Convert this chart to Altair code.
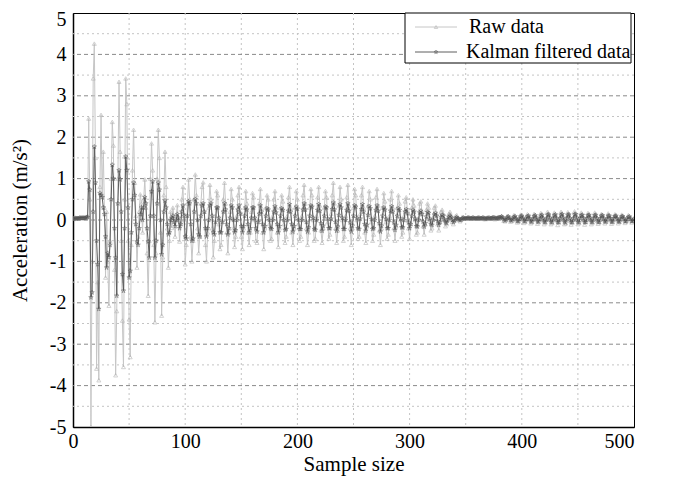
import altair as alt
import pandas as pd

series_names = ["Raw data", "Kalman filtered data"]

raw = [
    0.05, 0.04, 0.06, 0.05, 0.05, 0.04, 0.06, 0.05, 0.05, 0.06, 0.05, 0.04, 0.08, 0.1,
    2.45, 0.5, -5.0, -1.0, 3.42, 4.26, 1.5, -3.59, -1.5, -3.87,
    0.8, 2.54, 0.6, 1.65, 0.3, -1.39, 0.2, -1.0, -2.07, -0.5,
    1.0, 2.37, 1.8, -1.2, -3.75, -2.2, 1.0, 3.34, 1.65, -0.5,
    -2.43, -3.55, 0.5, 3.42, 2.8, -0.5, -2.4, -3.31, -0.6, 1.2,
    2.18, 0.9, 0.1, -1.15, -0.4, 0.2, 0.62, 0.4, -0.3, 0.5,
    0.98, 0.3, -0.8, -1.83, -0.5, 1.0, 1.85, 1.2, -0.6, -2.47,
    -0.8, 1.0, 2.18, 1.5, -0.3, -2.31, -0.9, 0.6, 1.65, 0.8,
    -0.2, -1.15, -0.5, 0.2, -0.19, 0.3, 0.1, -0.4, 0.1, 0.36,
    0.0, -0.52, -0.1, 0.5, 0.8, 0.0, -1.07, -0.6, 0.4, 0.98,
    0.5, -0.4, -1.0, -0.5, 0.5, 1.1, 0.6, -0.2, -0.8, -0.4,
    0.4, 0.8, 0.91, 0.2, -0.6, -1.0, -0.3,
    0.3, 0.85, 0.5, -0.2, -0.9, -0.5, 0.1,
    0.7, 0.6, -0.1, -0.7, -0.6, 0.0,
    0.5, 0.9, 0.4, -0.3, -0.8, -0.3, 0.2,
    0.75, 0.5, -0.2, -0.65, -0.4, 0.1,
    0.6, 0.8, 0.2, -0.4, -0.7, -0.2, 0.3,
    0.7, 0.4, -0.3, -0.6, -0.3, 0.2,
    0.65, 0.55, 0.0, -0.5, -0.55, 0.0, 0.4,
    0.75, 0.3, -0.3, -0.7, -0.2, 0.3,
    0.6, 0.5, -0.1, -0.5, -0.45, 0.1, 0.5,
    0.7, 0.3, -0.3, -0.65, -0.2, 0.3,
    0.6, 0.45, -0.1, -0.55, -0.4, 0.1, 0.55,
    0.8, 0.3, -0.3, -0.6, -0.2, 0.3,
    0.7, 0.5, -0.1, -0.5, -0.4, 0.1, 0.6,
    0.85, 0.4, -0.2, -0.6, -0.3, 0.3,
    0.75, 0.6, 0.0, -0.5, -0.45, 0.1, 0.55,
    0.8, 0.35, -0.25, -0.55, -0.2, 0.3,
    0.7, 0.55, -0.05, -0.45, -0.35, 0.15, 0.6,
    0.9, 0.4, -0.2, -0.55, -0.25, 0.35,
    0.8, 0.5, 0.0, -0.5, -0.4, 0.1, 0.55,
    0.85, 0.35, -0.2, -0.6, -0.2, 0.3,
    0.75, 0.6, 0.0, -0.45, -0.4, 0.15, 0.6,
    0.8, 0.3, -0.3, -0.55, -0.15, 0.35,
    0.7, 0.5, -0.05, -0.5, -0.35, 0.1, 0.55,
    0.75, 0.35, -0.25, -0.6, -0.2, 0.3,
    0.65, 0.45, -0.05, -0.45, -0.35, 0.1, 0.5,
    0.7, 0.3, -0.2, -0.5, -0.15, 0.3,
    0.6, 0.4, 0.0, -0.4, -0.3, 0.1, 0.45,
    0.55, 0.25, -0.2, -0.45, -0.1, 0.3,
    0.5, 0.35, 0.0, -0.35, -0.3, 0.05, 0.4,
    0.45, 0.2, -0.15, -0.35, -0.1, 0.25,
    0.4, 0.3, 0.0, -0.25, -0.2, 0.05, 0.3,
    0.35, 0.15, -0.1, -0.25, -0.05, 0.2,
    0.25, 0.15, 0.0, -0.15, -0.1, 0.05, 0.15,
    0.2, 0.1, -0.05, -0.1, 0.0, 0.1,
    0.12, 0.05, 0.0, -0.03, 0.02, 0.08,
    0.06, 0.04, 0.03, 0.05, 0.07, 0.05, 0.03, 0.04, 0.06, 0.05, 0.04, 0.03, 0.05,
    0.06, 0.04, 0.03, 0.05, 0.06, 0.04, 0.02, 0.04, 0.06, 0.05, 0.03, 0.04, 0.06,
    0.07, 0.04, 0.02, 0.03, 0.06, 0.08, 0.05,
    0.08, 0.1, 0.04, -0.02, -0.03, 0.03,
    0.1, 0.09, 0.02, -0.04, -0.02, 0.05,
    0.12, 0.08, 0.0, -0.06, -0.03, 0.06,
    0.13, 0.1, 0.01, -0.07, -0.04, 0.06,
    0.14, 0.1, 0.0, -0.08, -0.05, 0.05,
    0.15, 0.12, 0.01, -0.09, -0.05, 0.07,
    0.17, 0.12, -0.01, -0.1, -0.06, 0.06,
    0.2, 0.14, 0.0, -0.1, -0.07, 0.08,
    0.18, 0.13, -0.01, -0.12, -0.06, 0.07,
    0.2, 0.15, 0.0, -0.1, -0.08, 0.08,
    0.19, 0.14, -0.02, -0.11, -0.06, 0.07,
    0.21, 0.13, 0.0, -0.1, -0.07, 0.09,
    0.18, 0.12, -0.01, -0.11, -0.05, 0.07,
    0.17, 0.13, 0.0, -0.1, -0.06, 0.08,
    0.18, 0.11, -0.02, -0.09, -0.05, 0.07,
    0.15, 0.12, 0.0, -0.08, -0.04, 0.06,
    0.16, 0.1, -0.01, -0.09, -0.05, 0.07,
    0.14, 0.1, 0.0, -0.08, -0.04, 0.06,
    0.13, 0.09, 0.0, -0.07, -0.03, 0.05,
    0.12, 0.08, -0.01, -0.06, -0.02, 0.04,
]

kalman = [
    0.03, 0.03, 0.04, 0.04, 0.04, 0.04, 0.05, 0.05, 0.05, 0.05, 0.05, 0.05, 0.06, 0.07,
    0.93, 0.73, -1.87, -1.75, 0.2, 1.77, 0.9, -0.5, -1.07, -2.15,
    0.65, 0.6, 0.55, 0.3, 0.14, -0.4, -1.15, -0.8, -0.9, -0.6,
    0.5, 1.33, 1.0, -0.2, -0.91, -1.83, 0.4, 1.2, 0.98, 0.2,
    -1.31, -1.71, -0.2, 1.53, 1.2, 0.3, -1.39, -1.23, -0.3, 0.5,
    0.9, 0.6, -0.1, -0.52, -0.6, -0.2, 0.14, 0.3, 0.0, 0.3,
    0.55, 0.4, -0.2, -0.52, -0.91, 0.1, 0.69, 0.93, 0.1, -0.91,
    -0.5, 0.4, 0.9, 0.73, 0.0, -0.83, -0.6, 0.2, 0.47, 0.3,
    -0.1, -0.35, -0.3, 0.0, 0.05, 0.1, -0.05, -0.15, 0.0, 0.14,
    0.05, -0.2, -0.1, 0.2, 0.35, 0.1, -0.4, -0.45, 0.1, 0.45,
    0.4, -0.1, -0.5, -0.45, 0.2, 0.5, 0.4, 0.0, -0.35, -0.4,
    0.1, 0.35, 0.4, 0.2, -0.2, -0.4, -0.2,
    0.0, 0.35, 0.4, 0.1, -0.3, -0.35, -0.05,
    0.3, 0.3, 0.05, -0.3, -0.3, -0.05,
    0.2, 0.4, 0.25, -0.1, -0.35, -0.2, 0.05,
    0.35, 0.3, 0.0, -0.3, -0.25, 0.0,
    0.25, 0.35, 0.15, -0.15, -0.3, -0.15, 0.1,
    0.3, 0.25, -0.1, -0.3, -0.2, 0.05,
    0.3, 0.3, 0.05, -0.2, -0.28, -0.05, 0.15,
    0.35, 0.2, -0.1, -0.3, -0.15, 0.1,
    0.28, 0.25, 0.0, -0.2, -0.22, 0.0, 0.2,
    0.33, 0.18, -0.1, -0.3, -0.15, 0.1,
    0.28, 0.24, 0.0, -0.24, -0.22, 0.0, 0.22,
    0.38, 0.2, -0.1, -0.28, -0.15, 0.1,
    0.32, 0.27, 0.0, -0.22, -0.22, 0.0, 0.25,
    0.4, 0.25, -0.05, -0.28, -0.18, 0.1,
    0.35, 0.32, 0.05, -0.22, -0.24, 0.0, 0.24,
    0.38, 0.22, -0.08, -0.26, -0.14, 0.1,
    0.32, 0.3, 0.03, -0.2, -0.2, 0.03, 0.26,
    0.42, 0.25, -0.05, -0.26, -0.16, 0.12,
    0.38, 0.3, 0.05, -0.22, -0.22, 0.0, 0.24,
    0.4, 0.22, -0.06, -0.28, -0.14, 0.1,
    0.35, 0.32, 0.05, -0.2, -0.22, 0.03, 0.26,
    0.38, 0.2, -0.1, -0.26, -0.12, 0.12,
    0.33, 0.28, 0.02, -0.22, -0.2, 0.0, 0.24,
    0.35, 0.22, -0.08, -0.28, -0.14, 0.1,
    0.3, 0.25, 0.02, -0.2, -0.2, 0.0, 0.22,
    0.33, 0.2, -0.06, -0.24, -0.12, 0.1,
    0.28, 0.24, 0.03, -0.18, -0.18, 0.0, 0.2,
    0.26, 0.16, -0.06, -0.2, -0.1, 0.1,
    0.24, 0.2, 0.03, -0.15, -0.16, 0.0, 0.18,
    0.22, 0.14, -0.04, -0.16, -0.08, 0.08,
    0.19, 0.17, 0.03, -0.1, -0.12, 0.0, 0.13,
    0.17, 0.1, -0.03, -0.12, -0.05, 0.07,
    0.12, 0.1, 0.02, -0.06, -0.07, 0.0, 0.07,
    0.1, 0.07, 0.0, -0.05, -0.02, 0.04,
    0.06, 0.04, 0.02, 0.0, 0.01, 0.04,
    0.05, 0.04, 0.04, 0.04, 0.05, 0.05, 0.04, 0.04, 0.05, 0.05, 0.04, 0.04, 0.04,
    0.05, 0.05, 0.04, 0.04, 0.05, 0.05, 0.04, 0.03, 0.04, 0.05, 0.05, 0.04, 0.04,
    0.05, 0.06, 0.05, 0.04, 0.04, 0.05, 0.06,
    0.06, 0.08, 0.06, 0.02, -0.01, 0.01,
    0.06, 0.08, 0.05, 0.0, -0.01, 0.02,
    0.07, 0.09, 0.04, -0.02, -0.03, 0.02,
    0.08, 0.1, 0.05, -0.02, -0.03, 0.02,
    0.08, 0.1, 0.04, -0.03, -0.04, 0.02,
    0.09, 0.11, 0.05, -0.03, -0.04, 0.02,
    0.1, 0.12, 0.04, -0.04, -0.05, 0.02,
    0.12, 0.13, 0.05, -0.04, -0.05, 0.03,
    0.11, 0.13, 0.04, -0.05, -0.05, 0.03,
    0.12, 0.14, 0.05, -0.04, -0.06, 0.03,
    0.12, 0.13, 0.04, -0.05, -0.05, 0.03,
    0.13, 0.14, 0.05, -0.04, -0.05, 0.04,
    0.11, 0.12, 0.04, -0.05, -0.05, 0.03,
    0.11, 0.12, 0.05, -0.04, -0.05, 0.03,
    0.11, 0.12, 0.04, -0.04, -0.05, 0.03,
    0.1, 0.11, 0.04, -0.03, -0.04, 0.02,
    0.1, 0.1, 0.04, -0.04, -0.04, 0.03,
    0.09, 0.1, 0.04, -0.03, -0.04, 0.02,
    0.08, 0.09, 0.04, -0.03, -0.03, 0.02,
    0.07, 0.08, 0.03, -0.03, -0.02, 0.02,
]

x_ticks = [0, 100, 200, 300, 400, 500]
y_ticks = [-5, -4, -3, -2, -1, 0, 1, 2, 3, 4, 5]
y_major_grid = [-4, -3, -2, -1, 0, 1, 2, 3, 4]
y_minor_grid = [-4.5, -3.5, -2.5, -1.5, -0.5, 0.5, 1.5, 2.5, 3.5, 4.5]
x_grid = [50, 100, 150, 200, 250, 300, 350, 400, 450]

raw_df = pd.DataFrame({"sample": list(range(len(raw))), "value": raw})
kal_df = pd.DataFrame({"sample": list(range(len(kalman))), "value": kalman})

FONT = "Liberation Serif"
LFS = 20   # tick labels / legend
TFS = 21   # axis titles
RAW_LINE = "#c6c6c6"
RAW_MARK = "#b0b0b0"
KAL_LINE = "#5e5e5e"
KAL_MARK = "#505050"
STAR = ("M0,-1L0.24,-0.33L0.95,-0.31L0.38,0.12L0.59,0.81L0,0.4L-0.59,0.81"
        "L-0.38,0.12L-0.95,-0.31L-0.24,-0.33Z")

xs = alt.Scale(domain=[0, 500], nice=False, zero=False)
ys = alt.Scale(domain=[-5, 5], nice=False, zero=False)

common_axis = dict(
    grid=False, ticks=False,
    labelFont=FONT, titleFont=FONT, labelFontSize=LFS, titleFontSize=TFS,
    labelColor="black", titleColor="black", titleFontWeight="normal",
    domainColor="black", domainWidth=1.5,
)
x_axis = alt.Axis(
    values=x_ticks, labelPadding=4, titlePadding=2,
    labelAlign={"condition": {"test": "datum.value == 500", "value": "right"}, "value": "center"},
    **common_axis,
)
y_axis = alt.Axis(
    values=y_ticks, labelPadding=7, titlePadding=19,
    labelExpr="'' + datum.value",
    labelOffset={"condition": {"test": "datum.value == 5", "value": 6}, "value": 0},
    **common_axis,
)

X = alt.X("sample:Q", scale=xs, axis=x_axis, title="Sample size")
Y = alt.Y("value:Q", scale=ys, axis=y_axis, title="Acceleration (m/s²)")

# grid layers share field names and axes with the data layers
major = alt.Chart(pd.DataFrame({"value": y_major_grid})).mark_rule(
    color="#8a8a8a", strokeDash=[4, 3], strokeWidth=1
).encode(y=Y)
minor = alt.Chart(pd.DataFrame({"value": y_minor_grid})).mark_rule(
    color="#c4c4c4", strokeDash=[2, 3], strokeWidth=1
).encode(y=Y)
vgrid = alt.Chart(pd.DataFrame({"sample": x_grid})).mark_rule(
    color="#c4c4c4", strokeDash=[2, 3], strokeWidth=1
).encode(x=X)

raw_line = alt.Chart(raw_df).mark_line(color=RAW_LINE, strokeWidth=1, clip=True).encode(x=X, y=Y)
raw_pts = alt.Chart(raw_df).mark_point(
    shape="triangle-up", size=16, filled=False, color=RAW_MARK, strokeWidth=0.8, clip=True
).encode(x=X, y=Y)
kal_line = alt.Chart(kal_df).mark_line(color=KAL_LINE, strokeWidth=1, clip=True).encode(x=X, y=Y)
kal_pts = alt.Chart(kal_df).mark_point(
    shape=STAR, size=22, filled=False, color=KAL_MARK, strokeWidth=0.7, clip=True
).encode(x=X, y=Y)

# hand-built legend box (positions in pixels of the plot area)
one = pd.DataFrame({"k": [0]})
leg_box = alt.Chart(one).mark_rect(fill="white", stroke="black", strokeWidth=1).encode(
    x=alt.value(332), x2=alt.value(558), y=alt.value(0), y2=alt.value(50))
leg_rows = []
for i, (name, lc, mc, shp, sz, tx) in enumerate([
    (series_names[0], RAW_LINE, RAW_MARK, "triangle-up", 12, 396),
    (series_names[1], KAL_LINE, KAL_MARK, STAR, 16, 393),
]):
    yy = 14 + 25 * i
    leg_rows.append(alt.Chart(one).mark_rule(color=lc, strokeWidth=1).encode(
        x=alt.value(342), x2=alt.value(384), y=alt.value(yy)))
    leg_rows.append(alt.Chart(one).mark_point(shape=shp, size=sz, filled=False, color=mc,
                                              strokeWidth=0.8).encode(
        x=alt.value(363), y=alt.value(yy)))
    leg_rows.append(alt.Chart(pd.DataFrame({"t": [name]})).mark_text(
        font=FONT, fontSize=LFS, color="black", align="left", baseline="middle"
    ).encode(x=alt.value(tx), y=alt.value(yy), text="t:N"))

chart = alt.layer(
    minor, vgrid, major, raw_line, raw_pts, kal_line, kal_pts, leg_box, *leg_rows
).properties(
    width=561, height=414,
    autosize=alt.AutoSizeParams(type="none"),
    padding={"left": 65, "top": 5, "right": 10, "bottom": 55},
).configure_view(stroke="black", strokeWidth=1)

chart.save("out.html", embed_options={"renderer": "svg", "actions": False})
